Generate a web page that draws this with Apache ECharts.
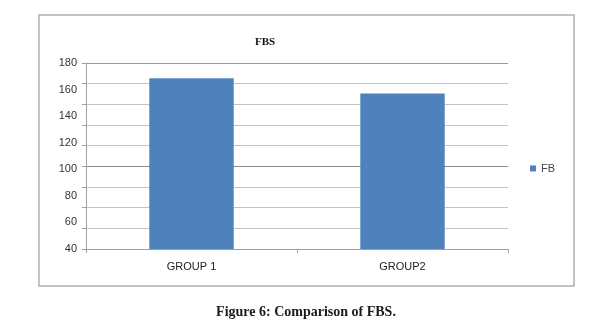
<!DOCTYPE html>
<html>
<head>
<meta charset="utf-8">
<script src="https://cdn.jsdelivr.net/npm/echarts@6/dist/echarts.min.js"></script>
<style>
html,body{margin:0;padding:0;background:#fff;}
#c{width:612px;height:330px;}
</style>
</head>
<body>
<div id="c"></div>
<script>
// ---- data ----
const categories = ['GROUP 1', 'GROUP2'];
const seriesName = 'FB';
const fbValues = [168.5, 157];
// labelled value axis (as printed)
const labelAxisMin = 40, labelAxisMax = 180, labelAxisStep = 20;
// gridline axis (10 gridlines drawn in the reference)
const gridAxisMin = 0, gridAxisMax = 180, gridAxisStep = 20;
const chartTitle = 'FBS';
const caption = 'Figure 6: Comparison of FBS.';

const light = '#c4c4c4', dark = '#8a8a8a';
const splitColors = [light, light, light, light, dark, light, light, light, light, '#9a9a9a'];

const chart = echarts.init(document.getElementById('c'), null, {renderer: 'canvas'});
chart.setOption({
  animation: false,
  backgroundColor: '#fff',
  title: {
    text: chartTitle,
    left: 260, top: 32, textAlign: 'center',
    textStyle: {fontFamily: 'Liberation Serif', fontWeight: 'bold', fontSize: 11, color: '#111'}
  },
  legend: {
    data: [seriesName],
    left: 530, top: 163, orient: 'vertical', padding: 0,
    itemWidth: 6, itemHeight: 6, itemGap: 5,
    icon: 'rect',
    textStyle: {fontFamily: 'Liberation Sans', fontSize: 11, color: '#444'}
  },
  grid: {left: 86, right: 104, top: 63, bottom: 81, containLabel: false},
  xAxis: {
    type: 'category',
    data: categories,
    axisLine: {lineStyle: {color: '#a0a0a0', width: 1}},
    axisTick: {show: true, length: 4, lineStyle: {color: '#a0a0a0'}},
    axisLabel: {fontFamily: 'Liberation Sans', fontSize: 11, color: '#222', margin: 12},
    splitLine: {show: false}
  },
  yAxis: [
    {
      type: 'value', min: labelAxisMin, max: labelAxisMax, interval: labelAxisStep,
      position: 'left',
      axisLine: {show: false}, axisTick: {show: false}, splitLine: {show: false},
      axisLabel: {fontFamily: 'Liberation Sans', fontSize: 11, color: '#333', margin: 9, padding: [5, 0, 0, 0]}
    },
    {
      type: 'value', min: gridAxisMin, max: gridAxisMax, interval: gridAxisStep,
      position: 'left',
      axisLine: {show: true, lineStyle: {color: '#a0a0a0', width: 1}},
      axisTick: {show: true, length: 4, lineStyle: {color: '#a0a0a0'}},
      axisLabel: {show: false},
      splitLine: {show: true, lineStyle: {color: splitColors, width: 1}}
    }
  ],
  series: [{
    name: seriesName,
    type: 'bar',
    yAxisIndex: 0,
    data: fbValues,
    barWidth: '40%',
    itemStyle: {color: '#4f81bd'}
  }],
  graphic: [
    {
      type: 'rect', silent: true, z: -1,
      shape: {x: 39, y: 15, width: 535, height: 271},
      style: {fill: 'none', stroke: '#b0b0b0', lineWidth: 1.5}
    },
    {
      type: 'text', silent: true,
      left: 'center', top: 305,
      style: {text: caption, fontFamily: 'Liberation Serif', fontWeight: 'bold', fontSize: 14, fill: '#1a1a1a'}
    }
  ]
});
</script>
</body>
</html>
